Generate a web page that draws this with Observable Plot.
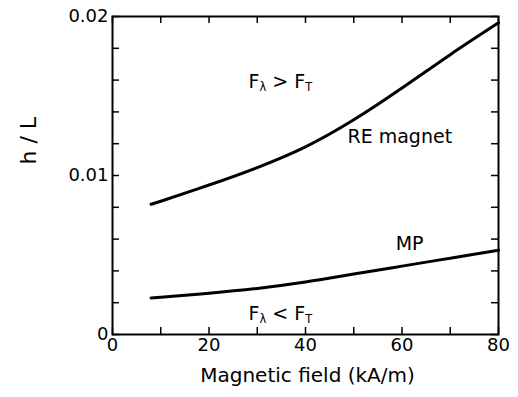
<!DOCTYPE html>
<html><head><meta charset="utf-8">
<script src="https://cdn.jsdelivr.net/npm/d3@7"></script>
<script src="https://cdn.jsdelivr.net/npm/@observablehq/plot@0.6"></script>
<style>body{margin:0;background:#fff}</style>
</head><body><div id="chart"></div>
<script>
// RE magnet curve
const fieldRE = [8, 10, 20, 30, 40, 50, 60, 70, 80];
const hlRE = [0.0082, 0.00838, 0.0094, 0.0105, 0.0118, 0.0135, 0.0155, 0.0176, 0.0196];
// MP curve
const fieldMP = [8, 10, 20, 30, 40, 50, 60, 70, 80];
const hlMP = [0.0023, 0.00235, 0.0026, 0.0029, 0.0033, 0.0038, 0.0043, 0.0048, 0.0053];
// ticks
const xTicks = [0, 10, 20, 30, 40, 50, 60, 70, 80];
const xTickLabels = [0, 20, 40, 60, 80];
const yTicks = [0, 0.002, 0.004, 0.006, 0.008, 0.01, 0.012, 0.014, 0.016, 0.018, 0.02];
const yTickLabels = [0, 0.01, 0.02];
// annotations
const labelText = ["F_λ > F_T", "RE magnet", "MP", "F_λ < F_T"];
const labelField = [28.2, 48.7, 58.7, 28.2];
const labelHL = [0.0159, 0.0124, 0.0057, 0.0013];

const curves = [
  ...fieldRE.map((x, i) => ({series: "RE", x, y: hlRE[i]})),
  ...fieldMP.map((x, i) => ({series: "MP", x, y: hlMP[i]}))
];
const labels = labelText.map((t, i) => ({t, x: labelField[i], y: labelHL[i]}));

const W = 518, H = 397, ML = 112, MR = 20, MT = 16, MB = 63, TICK = 7;
const frameW = W - ML - MR, frameH = H - MT - MB;

const plot = Plot.plot({
  width: W, height: H,
  marginLeft: ML, marginRight: MR, marginTop: MT, marginBottom: MB,
  style: {fontFamily: "DejaVu Sans", background: "#fff", color: "#000"},
  x: {domain: [0, 80]},
  y: {domain: [0, 0.02]},
  marks: [
    // inward ticks on all four sides
    Plot.tickX(xTicks, {x: d => d, insetTop: frameH - TICK, stroke: "#000", strokeWidth: 1.5}),
    Plot.tickX(xTicks, {x: d => d, insetBottom: frameH - TICK, stroke: "#000", strokeWidth: 1.5}),
    Plot.tickY(yTicks, {y: d => d, insetRight: frameW - TICK, stroke: "#000", strokeWidth: 1.5}),
    Plot.tickY(yTicks, {y: d => d, insetLeft: frameW - TICK, stroke: "#000", strokeWidth: 1.5}),
    Plot.axisX(xTickLabels, {anchor: "bottom", tickSize: 0, tickPadding: 4, fontSize: 18, label: null}),
    Plot.axisY(yTickLabels, {anchor: "left", tickSize: 0, tickPadding: 4, fontSize: 18, label: null, tickFormat: d => String(d)}),
    Plot.frame({stroke: "#000", strokeWidth: 2}),
    Plot.line(curves, {x: "x", y: "y", z: "series", stroke: "#000", strokeWidth: 3, curve: "natural"}),
    Plot.text(labels, {x: "x", y: "y", text: "t", textAnchor: "start", fontSize: 19, fill: "#000"}),
    Plot.text(["Magnetic field (kA/m)"], {frameAnchor: "bottom", dx: 2, dy: 47, fontSize: 20, fill: "#000"}),
    Plot.text(["h / L"], {frameAnchor: "left", dx: -84, dy: -11, rotate: -90, fontSize: 22, fill: "#000"})
  ]
});

// render subscripts (F_λ → F with subscript λ)
d3.select(plot).selectAll("text").each(function() {
  const t = this.textContent;
  if (!t.includes("_")) return;
  const sel = d3.select(this);
  sel.text(null);
  const parts = t.split(/_(\S)/);
  let shifted = false;
  parts.forEach((p, i) => {
    if (!p) return;
    const sp = sel.append("tspan").text(p);
    if (i % 2 === 1) { sp.attr("font-size", "0.6em").attr("dy", 3); shifted = true; }
    else if (shifted) { sp.attr("dy", -3); shifted = false; }
  });
});

document.getElementById("chart").appendChild(plot);
</script>
</body></html>
